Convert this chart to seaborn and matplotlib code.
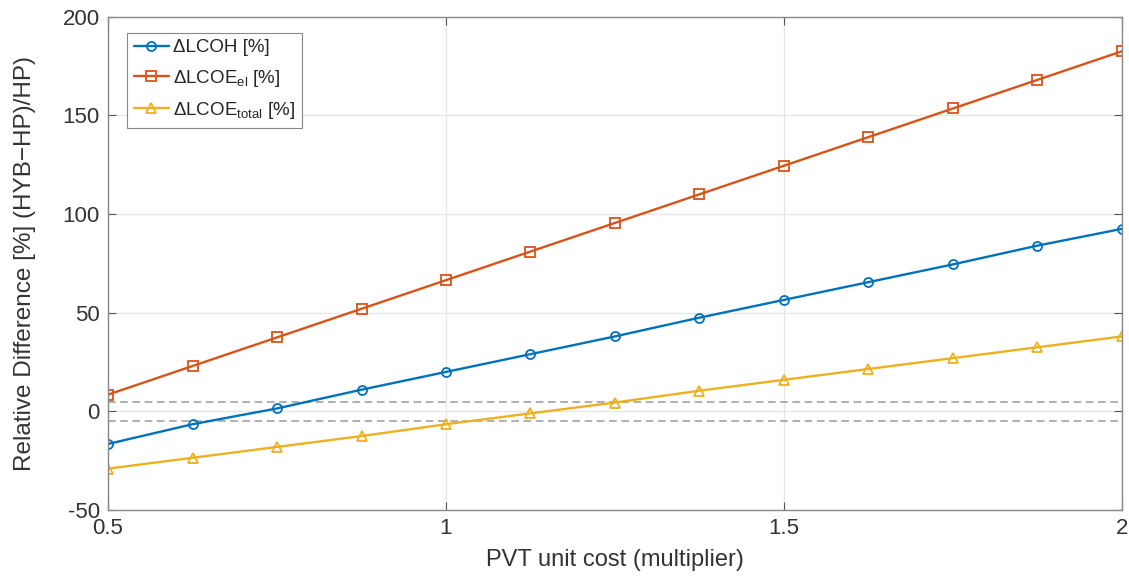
import numpy as np
import pandas as pd
import matplotlib
matplotlib.use("Agg")
import matplotlib.pyplot as plt
import seaborn as sns

x_mult = [0.5, 0.625, 0.75, 0.875, 1.0, 1.125, 1.25, 1.375, 1.5, 1.625, 1.75, 1.875, 2.0]
d_lcoh = [-16.5, -6.5, 1.5, 11, 20, 29, 38, 47.5, 56.5, 65.5, 74.5, 84, 92.5]
d_lcoe_el = [8.5, 23, 37.5, 52, 66.5, 81, 95.5, 110, 124.5, 139, 153.5, 168, 182.5]
d_lcoe_total = [-29, -23.5, -18, -12.5, -6.5, -1, 4.5, 10.5, 16, 21.5, 27, 32.5, 38]
band = [5, -5]
labels = ["ΔLCOH [%]", "ΔLCOE$_{el}$ [%]", "ΔLCOE$_{total}$ [%]"]
colors = ["#0072BD", "#D95319", "#EDB120"]
markers = ["o", "s", "^"]

sns.set_theme(style="whitegrid")
plt.rcParams["font.family"] = ["Liberation Sans", "DejaVu Sans"]
plt.rcParams["mathtext.default"] = "regular"
plt.rcParams["axes.unicode_minus"] = False

fig = plt.figure(figsize=(11.29, 5.77), dpi=100)
ax = fig.add_axes([0.0957, 0.116, 0.898, 0.855])

for ys, lab, c, m in zip([d_lcoh, d_lcoe_el, d_lcoe_total], labels, colors, markers):
    df = pd.DataFrame({"x": x_mult, "y": ys})
    sns.lineplot(data=df, x="x", y="y", ax=ax, color=c, marker=m, markersize=6.5,
                 markerfacecolor="none", markeredgecolor=c, markeredgewidth=1.3,
                 linewidth=1.7, label=lab)

for b in band:
    ax.axhline(b, color="#9a9a9a", linestyle=(0, (5, 3)), linewidth=1.1, zorder=1)

ax.set_xlim(0.5, 2)
ax.set_ylim(-50, 200)
ax.set_xticks([0.5, 1, 1.5, 2])
ax.set_xticklabels(["0.5", "1", "1.5", "2"])
ax.set_yticks([-50, 0, 50, 100, 150, 200])
ax.set_facecolor("white")
ax.grid(True, color="#e6e6e6", linewidth=0.9)
for s in ax.spines.values():
    s.set_visible(True)
    s.set_color("#888888")
    s.set_linewidth(1.0)
ax.tick_params(direction="in", length=6, width=0.8, color="#555555",
               labelsize=16, colors="#333333", top=True, right=True, bottom=True, left=True)
ax.tick_params(axis="x", pad=6, labelcolor="#333333")
ax.tick_params(axis="y", pad=6, labelcolor="#333333")
ax.set_xlabel("PVT unit cost (multiplier)", fontsize=17, color="#333333", labelpad=7)
ax.set_ylabel("Relative Difference [%] (HYB−HP)/HP)", fontsize=17.5, color="#333333", labelpad=19)

leg = ax.legend(loc="upper left", bbox_to_anchor=(0.0187, 0.9675), fontsize=13.5,
                frameon=True, fancybox=False, edgecolor="#888888", framealpha=1,
                borderpad=0.35, labelspacing=0.6, handlelength=1.9, handletextpad=0.2,
                borderaxespad=0)
leg.get_frame().set_linewidth(0.8)

fig.savefig("out.png", dpi=100)
